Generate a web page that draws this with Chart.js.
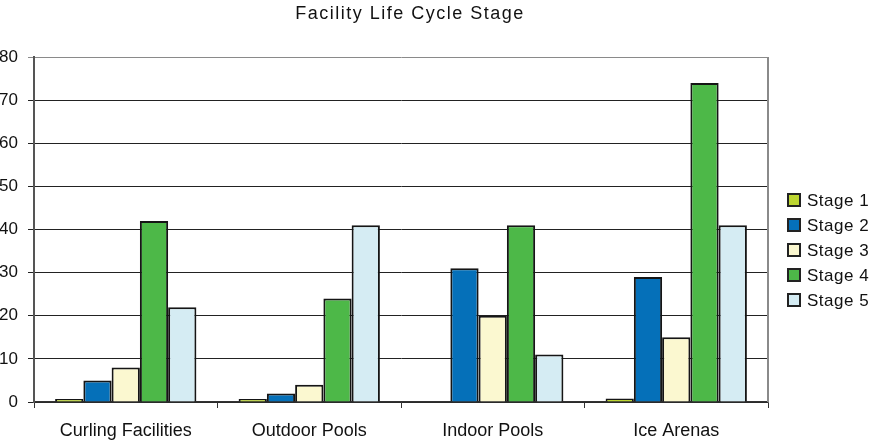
<!DOCTYPE html>
<html>
<head>
<meta charset="utf-8">
<script src="https://cdn.jsdelivr.net/npm/chart.js@4"></script>
<style>
  html, body { margin: 0; padding: 0; background: #fff; }
  #wrap { width: 872px; height: 443px; position: relative; }
</style>
</head>
<body>
<div id="wrap"><canvas id="stageChart"></canvas></div>
<script>
const categories = ['Curling Facilities', 'Outdoor Pools', 'Indoor Pools', 'Ice Arenas'];
const stageNames = ['Stage 1', 'Stage 2', 'Stage 3', 'Stage 4', 'Stage 5'];
const stage1 = [0.7, 0.7, 0, 0.8];
const stage2 = [5, 2, 31, 29];
const stage3 = [8, 4, 20, 15];
const stage4 = [42, 24, 41, 74];
const stage5 = [22, 41, 11, 41];
const stageColors = ['#bdd631', '#0570b9', '#fbf8d0', '#4db848', '#d5ecf3'];
const chartTitle = 'Facility Life Cycle Stage';

const FONT = "'Liberation Sans', Arial, sans-serif";

// title, right border and legend drawn by hand so they sit where the original has them
const decorations = {
  id: 'decorations',
  afterDraw(chart) {
    const ctx = chart.ctx;
    const area = chart.chartArea;
    ctx.save();

    // right frame line
    ctx.strokeStyle = '#8a8a8a';
    ctx.lineWidth = 2;
    ctx.beginPath();
    ctx.moveTo(area.right, area.top);
    ctx.lineTo(area.right, area.bottom);
    ctx.stroke();

    // title
    ctx.fillStyle = '#111';
    ctx.font = '18px ' + FONT;
    ctx.letterSpacing = '1.5px';
    ctx.textAlign = 'center';
    ctx.textBaseline = 'middle';
    ctx.fillText(chartTitle, area.left + area.width / 2 + 9, 14);

    // legend
    ctx.letterSpacing = '0.5px';
    ctx.font = '17px ' + FONT;
    ctx.textAlign = 'left';
    chart.data.datasets.forEach((ds, i) => {
      const y = 200 + i * 25;
      const x = area.right + 20;
      ctx.fillStyle = ds.backgroundColor;
      ctx.fillRect(x, y - 6, 12, 12);
      ctx.strokeStyle = '#222';
      ctx.lineWidth = 2;
      ctx.strokeRect(x, y - 6, 12, 12);
      ctx.fillStyle = '#111';
      ctx.fillText(ds.label, x + 19, y + 1);
    });
    ctx.restore();
  }
};

const seriesValues = [stage1, stage2, stage3, stage4, stage5];

new Chart(document.getElementById('stageChart'), {
  type: 'bar',
  data: {
    labels: categories,
    datasets: seriesValues.map((vals, i) => ({
      label: stageNames[i],
      data: vals,
      backgroundColor: stageColors[i],
      borderColor: '#151515',
      borderWidth: 2,
      barPercentage: 1,
      categoryPercentage: 0.77
    }))
  },
  options: {
    responsive: true,
    maintainAspectRatio: false,
    animation: false,
    layout: { padding: { top: 57, right: 104, left: 0, bottom: 0 } },
    plugins: {
      legend: { display: false },
      title: { display: false },
      tooltip: { enabled: false }
    },
    scales: {
      x: {
        afterFit: s => { s.height = 41; },
        grid: {
          offset: true,
          drawOnChartArea: false,
          drawTicks: true,
          tickLength: 6,
          color: '#333'
        },
        border: { color: '#333', width: 1.5 },
        ticks: {
          color: '#111',
          padding: 12,
          font: { family: FONT, size: 18 }
        }
      },
      y: {
        min: 0,
        max: 80,
        afterFit: s => { s.width = 34; },
        grid: {
          tickLength: 6,
          color: ctx => (ctx.tick && ctx.tick.value === 80 ? '#8a8a8a' : '#222'),
          lineWidth: 1
        },
        border: { color: '#555', width: 2 },
        ticks: {
          stepSize: 10,
          color: '#111',
          padding: 10,
          font: { family: FONT, size: 17 }
        }
      }
    }
  },
  plugins: [decorations]
});
</script>
</body>
</html>
